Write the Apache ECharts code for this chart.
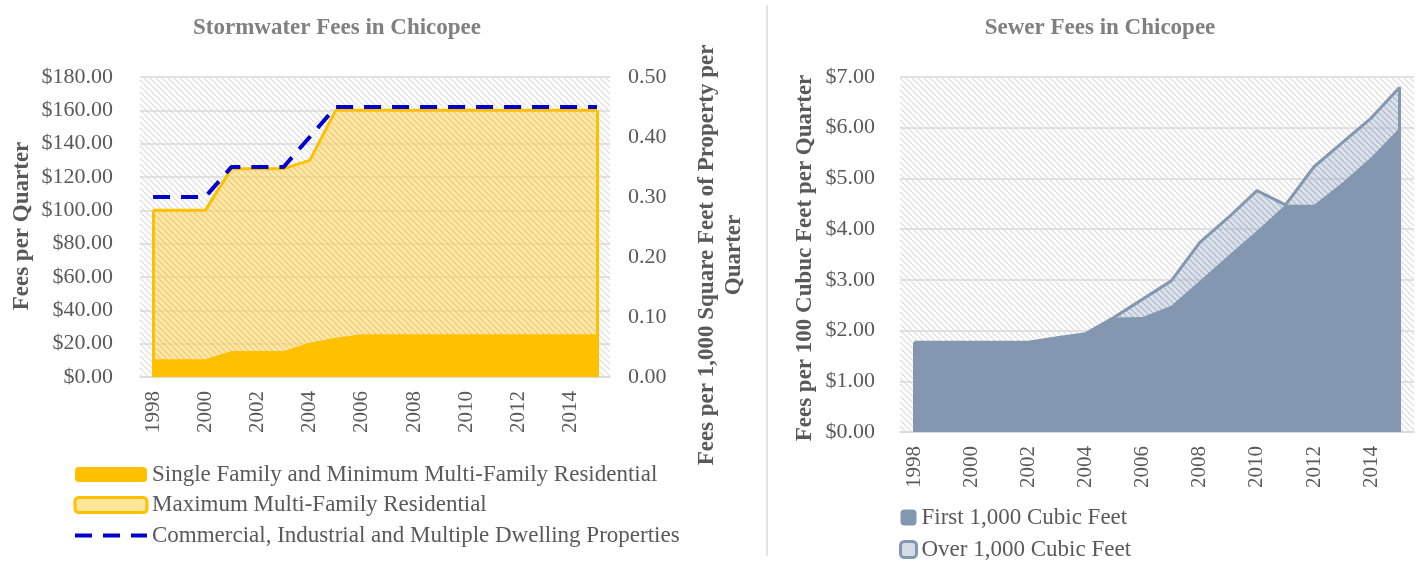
<html>
<head>
    <meta charset='utf-8' />
    <script src="https://cdn.jsdelivr.net/npm/echarts@6/dist/echarts.min.js"></script>
    <title>Chicopee Fees</title>
    <style>
        body {
            margin: 0;
            overflow: hidden;
            background: #ffffff;
        }

        #chart {
            width: 1421px;
            height: 563px;
        }
    </style>
</head>
<body>
    <div id="chart"></div>
    <script type="text/javascript">
        // categories
        var years = ['1998', '1999', '2000', '2001', '2002', '2003', '2004', '2005', '2006',
            '2007', '2008', '2009', '2010', '2011', '2012', '2013', '2014', '2015'];

        // stormwater ($ per quarter, left axis)
        var singleFamily = [10.6, 10.6, 10.6, 15.6, 15.6, 15.6, 20.6, 23.6, 25.6,
            25.6, 25.6, 25.6, 25.6, 25.6, 25.6, 25.6, 25.6, 25.6];
        var maxMultiFamily = [100, 100, 100, 125, 125, 125, 130, 160, 160,
            160, 160, 160, 160, 160, 160, 160, 160, 160];
        // stormwater (per 1,000 sq ft, right axis)
        var commercial = [0.30, 0.30, 0.30, 0.35, 0.35, 0.35, 0.40, 0.45, 0.45,
            0.45, 0.45, 0.45, 0.45, 0.45, 0.45, 0.45, 0.45, 0.45];

        // sewer ($ per 100 cubic feet)
        var sewerFirst = [1.77, 1.77, 1.77, 1.77, 1.77, 1.86, 1.94, 2.26, 2.27,
            2.49, 2.98, 3.48, 3.97, 4.48, 4.48, 4.92, 5.42, 6.00];
        var sewerOver = [1.77, 1.77, 1.77, 1.77, 1.77, 1.86, 1.94, 2.26, 2.62,
            2.98, 3.74, 4.23, 4.76, 4.48, 5.23, 5.71, 6.19, 6.80];

        var serif = "'Liberation Serif', 'DejaVu Serif', serif";
        var grey = '#595959';
        var last = years.length - 1;

        // diagonal hatch tiles, like excel pattern fills
        function hatch(bg, fg, size) {
            var c = document.createElement('canvas');
            c.width = size;
            c.height = size;
            var ctx = c.getContext('2d');
            if (bg) {
                ctx.fillStyle = bg;
                ctx.fillRect(0, 0, size, size);
            }
            ctx.strokeStyle = fg;
            ctx.lineWidth = 1.2;
            ctx.beginPath();
            for (var k = -1; k <= 1; k++) {
                ctx.moveTo(k * size, 0);
                ctx.lineTo(k * size + size, size);
            }
            ctx.stroke();
            return { image: c, repeat: 'repeat' };
        }

        var bgHatch = hatch('#ffffff', '#dcdcdc', 6);
        var maxHatch = hatch('rgba(255,214,100,0.58)', 'rgba(225,175,60,0.32)', 6);
        var overHatch = hatch('rgba(175,190,210,0.45)', 'rgba(132,151,176,0.40)', 6);

        function edges(data, color) {
            return {
                silent: true,
                symbol: 'none',
                label: { show: false },
                lineStyle: { color: color, width: 3, type: 'solid' },
                data: [
                    [{ coord: [years[0], 0] }, { coord: [years[0], data[0]] }],
                    [{ coord: [years[last], 0] }, { coord: [years[last], data[last]] }]
                ]
            };
        }

        function money(v) {
            return '$' + v.toFixed(2);
        }

        var xBase = {
            type: 'category',
            data: years,
            axisLine: { lineStyle: { color: '#d9d9d9', width: 1.5 } },
            axisTick: { show: false },
            axisLabel: { rotate: 90, interval: 1, margin: 14, color: grey, fontFamily: serif, fontSize: 21 }
        };

        var legendText = { color: grey, fontFamily: serif, fontSize: 23, lineHeight: 23 };

        var chart = echarts.init(document.getElementById('chart'));
        var option = {
            animation: false,
            backgroundColor: '#ffffff',
            grid: [
                { left: 140, width: 470, top: 77, height: 300, show: true, backgroundColor: bgHatch, borderWidth: 0 },
                { left: 900, width: 514, top: 77, height: 355, show: true, backgroundColor: bgHatch, borderWidth: 0 }
            ],
            xAxis: [
                Object.assign({ gridIndex: 0 }, xBase),
                Object.assign({ gridIndex: 1 }, xBase)
            ],
            yAxis: [{
                gridIndex: 0,
                type: 'value',
                min: 0,
                max: 180,
                interval: 20,
                axisLine: { show: false },
                axisTick: { show: false },
                axisLabel: { formatter: money, margin: 27, color: grey, fontFamily: serif, fontSize: 22 },
                splitLine: { lineStyle: { color: '#d9d9d9', width: 1.5 } }
            }, {
                gridIndex: 0,
                type: 'value',
                position: 'right',
                min: 0,
                max: 0.5,
                interval: 0.1,
                axisLine: { show: false },
                axisTick: { show: false },
                axisLabel: {
                    formatter: function(v) { return v.toFixed(2); },
                    margin: 18, color: grey, fontFamily: serif, fontSize: 22
                },
                splitLine: { show: false }
            }, {
                gridIndex: 1,
                type: 'value',
                min: 0,
                max: 7,
                interval: 1,
                axisLine: { show: false },
                axisTick: { show: false },
                axisLabel: { formatter: money, margin: 25, color: grey, fontFamily: serif, fontSize: 22 },
                splitLine: { lineStyle: { color: '#d9d9d9', width: 1.5 } }
            }],
            legend: [{
                orient: 'vertical',
                left: 73,
                top: 463,
                padding: 0,
                itemWidth: 72,
                itemHeight: 15,
                itemGap: 7.5,
                textStyle: legendText,
                data: [{
                    name: 'Single Family and Minimum Multi-Family Residential',
                    icon: 'roundRect',
                    itemStyle: { color: '#FFC000' }
                }, {
                    name: 'Maximum Multi-Family Residential',
                    icon: 'roundRect',
                    itemStyle: { color: '#FFE699', borderColor: '#FFC000', borderWidth: 3 }
                }, {
                    name: 'Commercial, Industrial and Multiple Dwelling Properties',
                    itemStyle: { opacity: 0 },
                    lineStyle: { color: '#0000CC', width: 4, type: [17, 11] }
                }]
            }, {
                orient: 'vertical',
                left: 899,
                top: 506,
                padding: 0,
                itemWidth: 16,
                itemHeight: 16,
                itemGap: 9,
                textStyle: legendText,
                data: [{
                    name: 'First 1,000 Cubic Feet',
                    icon: 'roundRect',
                    itemStyle: { color: '#8497B0' }
                }, {
                    name: 'Over 1,000 Cubic Feet',
                    icon: 'roundRect',
                    itemStyle: { color: '#D6DCE5', borderColor: '#8497B0', borderWidth: 3 }
                }]
            }],
            graphic: [{
                type: 'line',
                shape: { x1: 767, y1: 5, x2: 767, y2: 556 },
                style: { stroke: '#d9d9d9', lineWidth: 1.5 }
            }, {
                type: 'text',
                x: 337,
                y: 28,
                style: {
                    text: 'Stormwater Fees in Chicopee', fill: '#808080',
                    font: 'bold 23px ' + serif, align: 'center', verticalAlign: 'middle'
                }
            }, {
                type: 'text',
                x: 1100,
                y: 28,
                style: {
                    text: 'Sewer Fees in Chicopee', fill: '#808080',
                    font: 'bold 23px ' + serif, align: 'center', verticalAlign: 'middle'
                }
            }, {
                type: 'text',
                x: 22,
                y: 226,
                rotation: Math.PI / 2,
                style: {
                    text: 'Fees per Quarter', fill: grey,
                    font: 'bold 23px ' + serif, align: 'center', verticalAlign: 'middle'
                }
            }, {
                type: 'text',
                x: 721,
                y: 255,
                rotation: Math.PI / 2,
                style: {
                    text: 'Fees per 1,000 Square Feet of Property per\nQuarter', fill: grey,
                    font: 'bold 23px ' + serif, align: 'center', verticalAlign: 'middle', lineHeight: 27
                }
            }, {
                type: 'text',
                x: 805,
                y: 258,
                rotation: Math.PI / 2,
                style: {
                    text: 'Fees per 100 Cubuc Feet per Quarter', fill: grey,
                    font: 'bold 23px ' + serif, align: 'center', verticalAlign: 'middle'
                }
            }],
            series: [{
                name: 'Maximum Multi-Family Residential',
                type: 'line',
                xAxisIndex: 0,
                yAxisIndex: 0,
                data: maxMultiFamily,
                symbol: 'none',
                lineStyle: { color: '#FFC000', width: 3 },
                itemStyle: { color: '#FFE699' },
                areaStyle: { color: maxHatch, opacity: 1 },
                markLine: edges(maxMultiFamily, '#FFC000')
            }, {
                name: 'Single Family and Minimum Multi-Family Residential',
                type: 'line',
                xAxisIndex: 0,
                yAxisIndex: 0,
                data: singleFamily,
                symbol: 'none',
                lineStyle: { width: 0 },
                itemStyle: { color: '#FFC000' },
                areaStyle: { color: '#FFC000', opacity: 1 }
            }, {
                name: 'Commercial, Industrial and Multiple Dwelling Properties',
                type: 'line',
                xAxisIndex: 0,
                yAxisIndex: 1,
                data: commercial,
                symbol: 'none',
                itemStyle: { color: '#0000CC' },
                lineStyle: { color: '#0000CC', width: 4, type: [17, 11] }
            }, {
                name: 'Over 1,000 Cubic Feet',
                type: 'line',
                xAxisIndex: 1,
                yAxisIndex: 2,
                data: sewerOver,
                symbol: 'none',
                lineStyle: { color: '#8497B0', width: 3 },
                itemStyle: { color: '#D6DCE5' },
                areaStyle: { color: overHatch, opacity: 1 },
                markLine: edges(sewerOver, '#8497B0')
            }, {
                name: 'First 1,000 Cubic Feet',
                type: 'line',
                xAxisIndex: 1,
                yAxisIndex: 2,
                data: sewerFirst,
                symbol: 'none',
                lineStyle: { width: 0 },
                itemStyle: { color: '#8497B0' },
                areaStyle: { color: '#8497B0', opacity: 1 }
            }]
        };
        chart.setOption(option);
    </script>
</body>
</html>
